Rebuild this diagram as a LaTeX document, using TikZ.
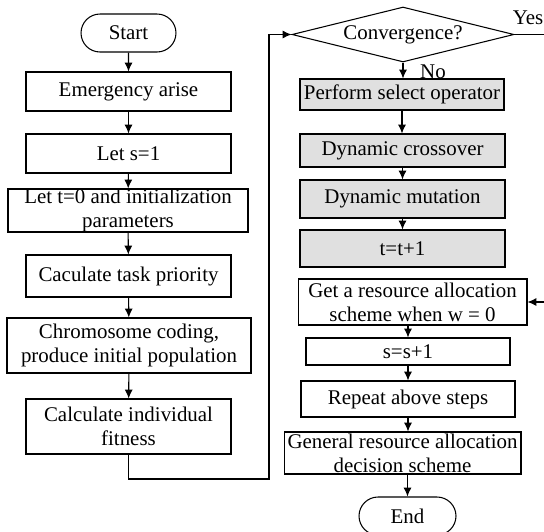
\documentclass[tikz,border=0pt]{standalone}
\usepackage{fontspec}
\setmainfont{Liberation Serif}
\usetikzlibrary{shapes.geometric,shapes.misc,arrows.meta}
\definecolor{opgray}{gray}{0.88}

\begin{document}
\begin{tikzpicture}[x=0.02cm,y=-0.02cm,line width=0.6pt,
        >={Latex[length=5pt,width=4.5pt]},
        font=\fontsize{11.9}{13.6}\selectfont]
        \useasboundingbox (0,0) rectangle (544,531);
        \begin{scope}[every node/.style={rectangle,draw,align=center,
                        inner sep=0pt, minimum width=4.1cm}]
            % left column
            \node (start) at (128.5,33) [rounded rectangle,minimum width=1.9cm,minimum height=0.76cm]{Start};
            \node (emerg) at (128.5,91.5) [minimum height=0.78cm]{Emergency arise};
            \node (lets) at (128.5,153.5) [minimum height=0.78cm]{Let s=1};
            \node (lett) at (128,210.5) [minimum width=4.8cm,minimum height=0.86cm]{Let t=0 and initialization\\parameters};
            \node (prio) at (128.5,276) [minimum height=0.84cm]{Caculate task priority};
            \node (chromo) at (129,345.5) [minimum width=4.88cm,minimum height=1.1cm]{Chromosome coding,\\produce initial population};
            \node (fit) at (128.5,426.5) [minimum height=1.1cm]{Calculate individual\\fitness};
            % right column
            \node (conv) at (403,34.5) [diamond,aspect=4,minimum width=4.44cm,minimum height=1.1cm]{Convergence?};
            \node (sel) at (402,94.5) [fill=opgray,minimum width=4.08cm,minimum height=0.62cm]{Perform select operator};
            \node (cross) at (402.5,150.5) [fill=opgray,minimum height=0.66cm]{Dynamic crossover};
            \node (mut) at (402.5,199) [fill=opgray,minimum height=0.76cm]{Dynamic mutation};
            \node (tinc) at (402.5,248.5) [fill=opgray,minimum height=0.74cm]{t=t+1};
            \node (get) at (412.5,302) [minimum width=4.58cm,minimum height=0.92cm]{Get a resource allocation\\scheme when w = 0};
            \node (sinc) at (408,351.5) [minimum width=4.08cm,minimum height=0.54cm]{s=s+1};
            \node (rep) at (408,399) [minimum width=4.28cm,minimum height=0.72cm]{Repeat above steps};
            \node (gen) at (402.5,453) [minimum width=4.74cm,minimum height=0.84cm]{General resource allocation\\decision scheme};
            \node (end) at (407.5,516) [rounded rectangle,minimum width=1.94cm,minimum height=0.76cm]{End};
        \end{scope}

        \node (yes) at (528,18) {Yes};
        \node (no) at (433,72) {No};
        \coordinate (loop) at (269,479);
        \coordinate (yesc) at (550,34.5);

        \path[->] (start) edge (emerg);
        \path[->] (emerg) edge (lets);
        \path[->] (lets) edge (lett);
        \path[->] (lett) edge (prio);
        \path[->] (prio) edge (chromo);
        \path[->] (chromo) edge (fit);
        \draw[->] (fit.south) |- (loop) |- (conv.west);
        \path[->] (conv.south) edge (conv.south |- sel.north);
        \path[->] (sel.south) edge (sel.south |- cross.north);
        \path[->] (cross.south) edge (cross.south |- mut.north);
        \path[->] (mut.south) edge (mut.south |- tinc.north);
        \draw[->] (conv.east) -- (yesc) |- (get.east);
        \path[->] (get.south -| sinc.north) edge (sinc.north);
        \path[->] (sinc.south) edge (rep.north);
        \path[->] (rep.south) edge (rep.south |- gen.north);
        \path[->] (gen.south -| end.north) edge (end.north);
    \end{tikzpicture}
\end{document}
